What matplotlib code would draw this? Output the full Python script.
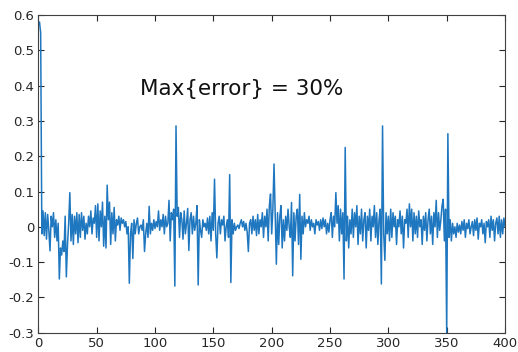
import numpy as np
import matplotlib
matplotlib.use("Agg")
import matplotlib.pyplot as plt

error = [
    0.58, 0.55, -0.02, 0.045, -0.025, 0.04, -0.035, 0.035, -0.01, -0.068,
    0.03, 0.0, 0.04, -0.03, 0.02, -0.04, 0.01, -0.148, -0.06, -0.08,
    -0.04, -0.07, 0.03, -0.142, -0.05, 0.01, 0.097, -0.04, 0.035, -0.05,
    0.03, -0.02, 0.04, -0.045, 0.035, -0.03, 0.04, -0.01, 0.03, -0.035,
    0.01, -0.02, 0.03, 0.0, 0.045, -0.02, 0.025, 0.01, 0.06, -0.03,
    0.065, -0.04, 0.045, 0.0, 0.07, -0.055, 0.03, -0.06, 0.118, 0.02,
    0.07, -0.05, 0.04, -0.02, 0.055, -0.04, 0.02, 0.005, 0.03, -0.01,
    0.025, 0.01, 0.02, 0.0, 0.015, -0.02, 0.0, -0.16, -0.02, 0.01,
    -0.09, 0.02, -0.02, 0.01, 0.025, -0.02, 0.0, 0.005, -0.01, 0.02,
    -0.07, -0.02, 0.01, -0.03, 0.058, -0.02, 0.01, -0.01, 0.02, -0.005,
    0.015, 0.0, 0.045, -0.01, 0.02, 0.0, 0.035, -0.02, 0.03, 0.0,
    0.01, 0.075, -0.04, 0.04, 0.02, 0.05, -0.168, 0.286, 0.03, 0.055,
    -0.03, 0.04, 0.02, -0.035, 0.045, -0.02, 0.01, 0.052, -0.067, 0.02,
    0.04, -0.02, 0.03, -0.01, 0.01, 0.06, -0.165, 0.02, -0.01, -0.03,
    0.02, 0.0, 0.01, -0.01, 0.025, -0.02, 0.03, -0.04, 0.04, -0.01,
    0.135, -0.02, -0.088, 0.01, 0.03, -0.02, 0.02, 0.005, 0.03, -0.04,
    0.0, 0.02, -0.03, 0.148, -0.158, 0.02, -0.02, 0.01, -0.01, 0.0,
    0.005, -0.005, 0.01, 0.02, 0.0, 0.015, -0.01, 0.01, -0.015, -0.07,
    0.01, 0.02, -0.02, 0.03, -0.01, 0.02, -0.025, 0.035, -0.02, 0.02,
    0.0, 0.04, -0.03, 0.03, 0.0, 0.05, -0.04, 0.06, 0.093, -0.02,
    0.05, 0.178, 0.03, -0.106, 0.04, -0.05, 0.03, 0.06, -0.06, 0.02,
    -0.04, 0.03, -0.01, 0.05, 0.0, -0.03, 0.069, -0.139, 0.04, -0.04,
    0.03, 0.05, -0.05, 0.092, -0.092, 0.03, -0.02, 0.04, 0.0, 0.02,
    0.01, 0.03, -0.01, 0.02, 0.0, 0.01, -0.02, 0.02, 0.005, 0.015,
    -0.01, 0.02, -0.005, 0.025, 0.0, 0.02, -0.02, 0.01, -0.015, 0.02,
    0.04, -0.03, 0.03, 0.0, 0.097, 0.01, 0.06, -0.04, 0.05, -0.02,
    0.04, -0.148, 0.225, -0.04, 0.03, -0.06, 0.02, -0.02, 0.05, -0.03,
    0.04, 0.0, 0.06, -0.05, 0.03, -0.02, 0.05, -0.04, 0.02, 0.04,
    -0.06, 0.03, -0.01, 0.05, -0.04, 0.03, 0.0, 0.06, -0.03, 0.04,
    -0.05, 0.02, 0.05, -0.162, 0.286, -0.02, -0.095, 0.04, -0.02, 0.03,
    -0.04, 0.05, -0.03, 0.04, 0.0, 0.03, -0.05, 0.02, 0.0, 0.045,
    -0.02, 0.03, -0.06, 0.02, 0.01, 0.05, -0.03, 0.065, 0.0, 0.05,
    -0.04, 0.04, -0.02, 0.03, -0.03, 0.045, 0.0, 0.02, -0.05, 0.03,
    -0.01, 0.04, -0.04, 0.02, 0.05, -0.02, 0.03, -0.05, 0.04, 0.0,
    0.075, -0.03, 0.04, -0.01, 0.02, 0.06, 0.078, -0.04, 0.05, -0.3,
    0.264, -0.03, 0.02, -0.04, 0.01, -0.02, 0.0, -0.03, 0.01, -0.015,
    0.005, -0.02, 0.015, -0.01, 0.02, -0.03, 0.01, -0.005, 0.02, -0.02,
    0.0, 0.015, -0.025, 0.02, -0.01, 0.025, -0.035, 0.01, 0.0, 0.02,
    -0.02, 0.01, -0.045, 0.015, 0.0, 0.02, -0.03, 0.03, -0.01, 0.02,
    -0.04, 0.01, 0.025, -0.02, 0.03, -0.03, 0.02, -0.02, 0.025, 0.0,
]
sample = np.arange(1, len(error) + 1)

x_ticks = [0, 50, 100, 150, 200, 250, 300, 350, 400]
y_ticks = [-0.3, -0.2, -0.1, 0, 0.1, 0.2, 0.3, 0.4, 0.5, 0.6]
y_tick_labels = ["-0.3", "-0.2", "-0.1", "0", "0.1", "0.2", "0.3", "0.4", "0.5", "0.6"]
annotation = "Max{error} = 30%"

fig = plt.figure(figsize=(5.18, 3.52), dpi=100)
ax = fig.add_axes([0.074, 0.055, 0.901, 0.902])
ax.plot(sample, error, color="#1f77c0", linewidth=1.1)
ax.set_xlim(0, 400)
ax.set_ylim(-0.3, 0.6)
ax.set_xticks(x_ticks)
ax.set_yticks(y_ticks)
ax.set_yticklabels(y_tick_labels)
ax.tick_params(direction="in", top=True, right=True, length=4, width=0.8,
               labelsize=9.5, colors="#262626", labelcolor="#262626", pad=3)
for s in ax.spines.values():
    s.set_color("#404040")
    s.set_linewidth(0.8)
ax.text(87, 0.39, annotation, fontsize=15.5, ha="left", va="center", color="#111111")
fig.savefig("out.png", dpi=100)
